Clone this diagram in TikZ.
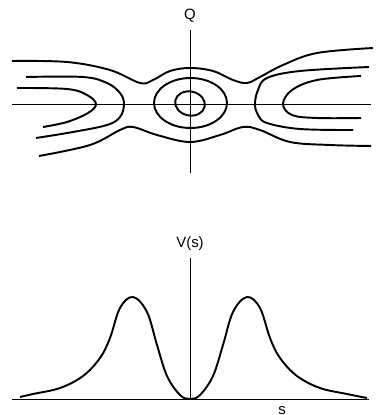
\documentclass[tikz,border=0pt]{standalone}
\usepackage{fontspec}
\setmainfont{Liberation Sans}
\usepackage{tikz}
\usetikzlibrary{positioning}

\begin{document}
\begin{tikzpicture}[x=0.02cm, y=-0.02cm,
    axis/.style={line width=0.5pt},
    curve/.style={line width=1.1pt, line join=round},
    lbl/.style={font=\fontsize{8.5}{10}\selectfont, inner sep=1pt}]
  \useasboundingbox (0,0) rectangle (378,415);

  % Upper picture: contours in the (s,Q) plane
  \coordinate (qtop) at (190,30);
  \coordinate (qbot) at (190,173);
  \coordinate (sleft) at (12,104);
  \coordinate (sright) at (371,104);
  \node[lbl] (Q) at (190,16) {Q};
  \draw[axis] (qtop) -- (qbot);
  \draw[axis] (sleft) -- (sright);

  % outer curves
  \draw[curve] plot[smooth, tension=0.6] coordinates {(12,61) (67,62) (110,70) (140,83)
    (153,80) (170,71) (190,68) (213,71) (233,80) (247,83) (260,77) (283,65) (317,53) (373,48)};
  \draw[curve] plot[smooth, tension=0.6] coordinates {(39,156) (90,145) (120,130) (133,127)
    (157,135) (190,142) (220,135) (243,127) (260,130) (290,142) (330,145) (371,146)};

  % middle curves
  \draw[curve] plot[smooth, tension=0.6] coordinates {(26,77) (83,77) (107,83) (120,93)
    (124,104) (120,117) (107,125) (73,132) (36,138)};
  \draw[curve] plot[smooth, tension=0.6] coordinates {(369,67) (300,71) (267,78) (258,90)
    (255,104) (258,115) (267,123) (300,129) (353,130)};
  \draw[curve] (190.5,103) ellipse [x radius=36.5, y radius=25];

  % inner curves
  \draw[curve] plot[smooth, tension=0.6] coordinates {(17,88) (67,89) (87,95) (96,104)
    (88,113) (67,122) (43,127)};
  \draw[curve] plot[smooth, tension=0.6] coordinates {(361,76) (317,80) (292,90) (283,104)
    (292,115) (317,118) (361,118)};
  \draw[curve, rotate around={-12:(190,103.5)}] (190,103.5) ellipse [x radius=15, y radius=12];

  % Lower picture: the potential V(s)
  \coordinate (vtop) at (190,258);
  \coordinate (vbot) at (190,399);
  \coordinate (bleft) at (12,399);
  \coordinate (bright) at (369,399);
  \node[lbl] (V) at (190,244) {V(s)};
  \node[lbl, inner sep=0pt] (S) at (282,410.5) {s};
  \draw[axis] (vtop) -- (vbot);
  \draw[axis] (bleft) -- (bright);
  \draw[curve] plot[smooth, tension=0.6] coordinates {(20,397) (33,394) (60,388) (83,376)
    (100,358) (110,338) (120,308) (133,297) (147,312) (157,345) (167,376) (180,395)
    (190,399) (200,395) (213,376) (223,345) (233,312) (247,297) (260,308) (270,338)
    (280,358) (297,376) (320,388) (347,394) (367,398)};
\end{tikzpicture}
\end{document}
